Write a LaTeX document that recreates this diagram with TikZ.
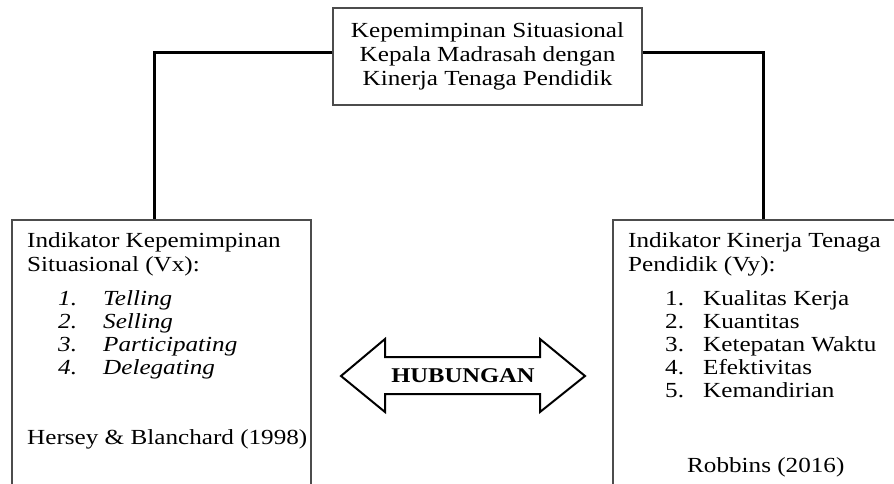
\documentclass[tikz,border=0pt]{standalone}
\usepackage{fontspec}
\setmainfont{Liberation Serif}[FakeStretch=1.17]
\begin{document}
\begin{tikzpicture}[
        x=1pt, y=-1pt,
        box/.style={rectangle, draw=black!70, line width=1.1pt, inner sep=0pt},
        link/.style={line width=3pt},
        txt/.style={inner sep=0pt, align=left, anchor=north west, font=\fontsize{21.5}{24}\selectfont},
        lst/.style={inner sep=0pt, align=left, anchor=north west, font=\fontsize{21.5}{23}\selectfont},
        ref/.style={inner sep=0pt, anchor=base west, font=\fontsize{21.5}{24}\selectfont}
    ]
        \useasboundingbox (0,0) rectangle (894,484);
        \clip (0,0) rectangle (894,484);

        % Title box
        \node[box, minimum width=309pt, minimum height=97pt, align=center, font=\fontsize{21.5}{24}\selectfont] (title) at (487.5,56.5)
            {\strut Kepemimpinan Situasional\\ \strut Kepala Madrasah dengan\\ \strut Kinerja Tenaga Pendidik};

        % Indicator boxes (they run off the bottom)
        \node[box, minimum width=299pt, minimum height=300pt] (vx) at (161.5,370) {};
        \node[box, minimum width=300pt, minimum height=300pt] (vy) at (763,370) {};

        % Connectors
        \draw[link] ([yshift=3.5pt]title.west) -| ([xshift=-7.5pt]vx.north);
        \draw[link] ([yshift=3.5pt]title.east) -| (vy.north);

        % Left box: leadership indicators
        \node[txt] (vxhead) at (27,230.2) {\strut Indikator Kepemimpinan\\ \strut Situasional (Vx):};
        \node[lst] (vxlist) at (58,288.9) {\strut\makebox[45pt][l]{\textit{1.}}\textit{Telling}\\
            \strut\makebox[45pt][l]{\textit{2.}}\textit{Selling}\\
            \strut\makebox[45pt][l]{\textit{3.}}\textit{Participating}\\
            \strut\makebox[45pt][l]{\textit{4.}}\textit{Delegating}};
        \node[ref] (vxref) at (27,444) {Hersey \& Blanchard (1998)};

        % Right box: performance indicators
        \node[txt] (vyhead) at (628,230.2) {\strut Indikator Kinerja Tenaga\\ \strut Pendidik (Vy):};
        \node[lst] (vylist) at (665,288.9) {\strut\makebox[38pt][l]{1.}Kualitas Kerja\\
            \strut\makebox[38pt][l]{2.}Kuantitas\\
            \strut\makebox[38pt][l]{3.}Ketepatan Waktu\\
            \strut\makebox[38pt][l]{4.}Efektivitas\\
            \strut\makebox[38pt][l]{5.}Kemandirian};
        \node[ref] (vyref) at (687,472) {Robbins (2016)};

        % Double arrow in the middle
        \draw[line width=2pt, line join=miter, fill=white] (341,376) -- (385,339) -- (385,357) -- (540,357) -- (540,339) -- (585,376)
            -- (540,412) -- (540,394) -- (385,394) -- (385,412) -- cycle;
        \node[font=\bfseries\fontsize{21}{24}\selectfont] (hub) at (463,376) {HUBUNGAN};

    \end{tikzpicture}
\end{document}
